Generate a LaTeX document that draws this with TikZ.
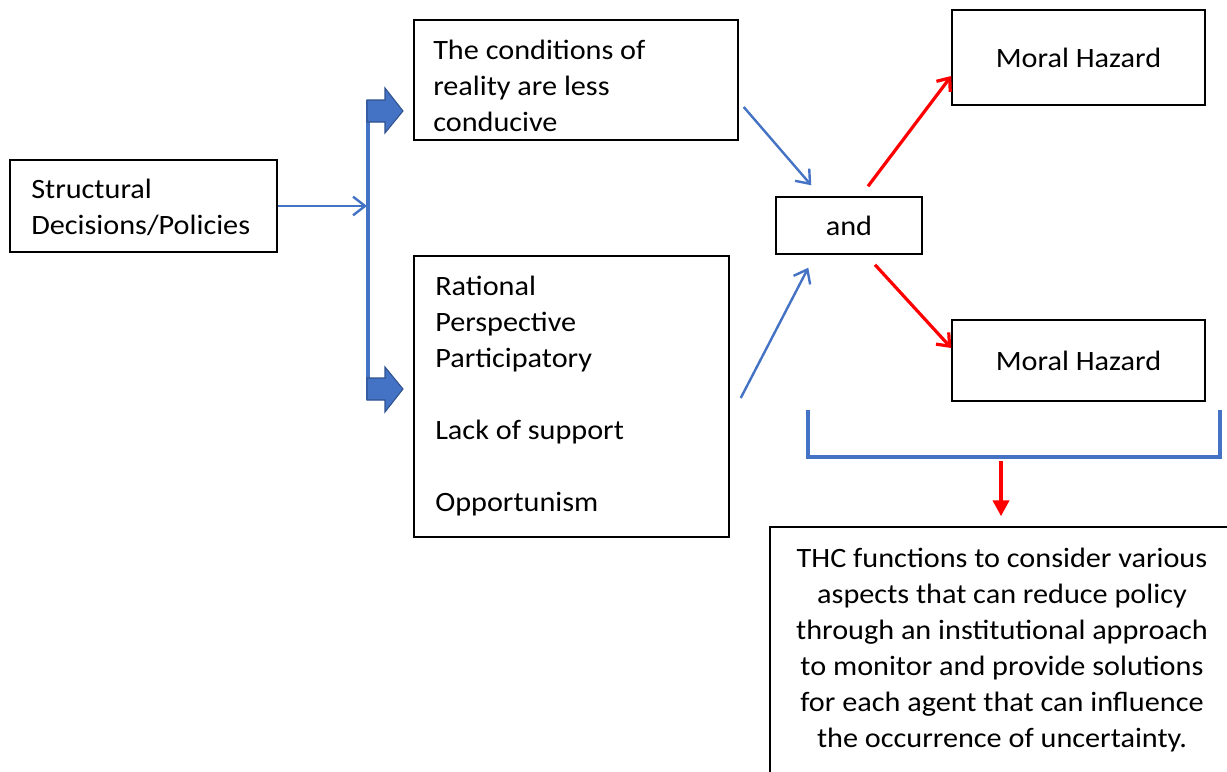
\documentclass[tikz,border=0pt]{standalone}
\usepackage{fontspec}
\setmainfont{Carlito}[FakeStretch=1.08]
\usetikzlibrary{arrows.meta}
\definecolor{wblue}{HTML}{4472C4}
\definecolor{wdark}{HTML}{2F528F}
\definecolor{wred}{HTML}{FF0000}
\newcommand\dtxt{\fontsize{21}{27}\selectfont}
\begin{document}
\begin{tikzpicture}[x=0.75pt,y=-0.75pt,
  box/.style={draw=black,line width=1.1pt,inner sep=0pt,font=\dtxt},
  txt/.style={inner sep=0pt,font=\dtxt},
  bluearrow/.style={draw=wblue,line width=1.8pt,-{Straight Barb[length=9pt,width=14pt]}},
  redarrow/.style={draw=wred,line width=2.4pt,-{Straight Barb[length=8pt,width=13pt]}},
  reddown/.style={draw=wred,line width=3pt,-{Triangle[length=12pt,width=12pt]}},
  bluebar/.style={draw=wblue,line width=3pt},
  blockarrow/.style={fill=wblue,draw=wdark,line width=0.8pt,line join=miter}]
\useasboundingbox (0,0) rectangle (1227,771);
\clip (0,0) rectangle (1227,771);

% boxes
\node[box,minimum width=200.25pt,minimum height=69pt] (struct) at (143.5,206) {};
\node[txt,anchor=north west,align=left] (structT) at (31,172.8) {\strut Structural\\Decisions/Policies};

\node[box,minimum width=243pt,minimum height=90pt] (cond) at (576,80) {};
\node[txt,anchor=north west,align=left] (condT) at (433,33.8) {\strut The conditions of\\reality are less\\conducive};

\node[box,minimum width=236.25pt,minimum height=210.75pt] (rat) at (571.5,396.5) {};
\node[txt,anchor=north west,align=left] (ratT) at (435,269.8) {\strut Rational\\Perspective\\Participatory\\[27pt]Lack of support\\[27pt]Opportunism};

\node[box,minimum width=109.5pt,minimum height=42.75pt] (and) at (849,225.5) {and};

\node[box,minimum width=189.75pt,minimum height=71.25pt] (mh1) at (1078.5,57.5) {Moral Hazard};
\node[box,minimum width=189.75pt,minimum height=60.75pt] (mh2) at (1078.5,360.5) {Moral Hazard};

\node[box,minimum width=348pt,minimum height=197.25pt] (thc) at (1002,658.5) {};
\node[txt,anchor=north,align=center] (thcT) at (1002,541.8) {\strut THC functions to consider various\\aspects that can reduce policy\\through an institutional approach\\to monitor and provide solutions\\for each agent that can influence\\the occurrence of uncertainty.};

% splitter bar and block arrows
\coordinate (bartop) at (368,100);
\coordinate (barbot) at (368,400);
\coordinate (barmid) at (367,206);
\draw[bluebar] (bartop) -- (barbot);
\coordinate (ua) at (367,100);
\coordinate (la) at (367,378);
\filldraw[blockarrow] (ua) -- ++(18,0) -- ++(0,-12) -- ++(18,23) -- ++(-18,22) -- ++(0,-11) -- ++(-18,0) -- cycle;
\filldraw[blockarrow] (la) -- ++(18,0) -- ++(0,-11) -- ++(18,22) -- ++(-18,23) -- ++(0,-12) -- ++(-18,0) -- cycle;

% connectors
\draw[bluearrow] (struct.east) -- (barmid);
\draw[bluearrow] ([shift={(5,27)}]cond.east) -- ([shift={(36,-11)}]and.north west);
\draw[bluearrow] ([shift={(11,1.5)}]rat.east) -- ([shift={(33,13)}]and.south west);
\draw[redarrow] ([shift={(19,-10)}]and.north) -- ([shift={(0,18.5)}]mh1.west);
\draw[redarrow] ([shift={(26,10)}]and.south) -- ([shift={(0,-12.5)}]mh2.west);

% bracket
\coordinate (brL) at (808,410);
\coordinate (brR) at (1220,410);
\coordinate (brmid) at (1001,461);
\draw[bluebar,line join=miter] (brL) -- (808,457) -- (1220,457) -- (brR);
\draw[reddown] (brmid) -- ([shift={(-1,-10)}]thc.north);
\end{tikzpicture}
\end{document}
